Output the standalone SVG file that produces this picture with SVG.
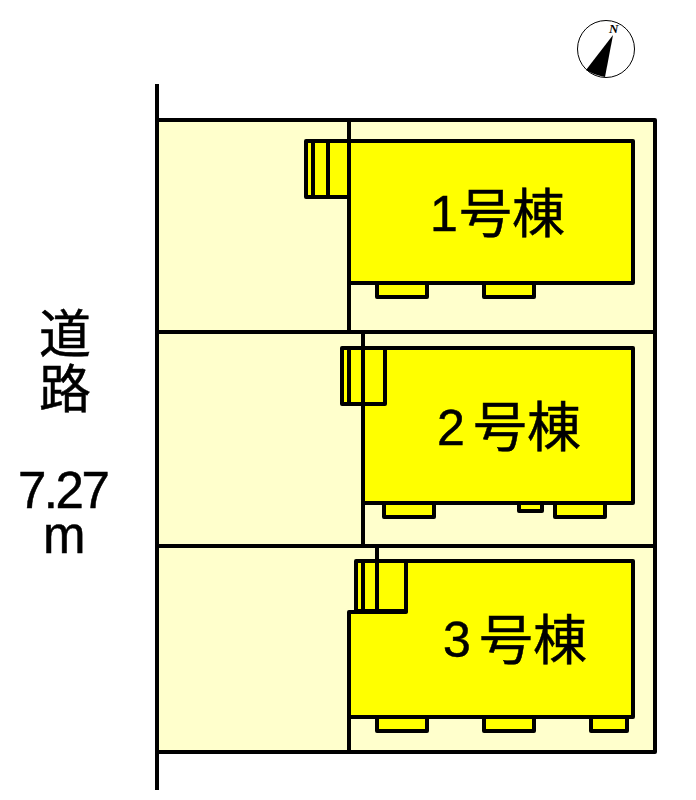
<svg xmlns="http://www.w3.org/2000/svg" width="696" height="800" viewBox="0 0 696 800">
<style>
.l{fill:none;stroke:#000;stroke-width:4;stroke-linejoin:round}
.b{fill:#ff0;stroke:#000;stroke-width:4;stroke-linejoin:round}
.t{font-family:"Liberation Sans","Noto Sans CJK JP",sans-serif;fill:#000;stroke:#000;stroke-width:.5}
.j{font-family:"Noto Sans CJK JP",sans-serif;fill:#000;stroke:#000;stroke-width:.5}
</style>
<rect width="696" height="800" fill="#fff"/>
<g id="site">
<rect x="157" y="120" width="498" height="632" class="l" style="fill:#ffc"/>
</g>
<g id="connectors">
<path class="l" d="M157 84V790M157 332H655M157 546H655M349 120V141M349 283V332M363 332V348M363 503V546M377 546V561M349 717V752"/>
</g>
<g id="building-1">
<rect class="b" x="306" y="141" width="43" height="56"/>
<path class="l" d="M313 141V197M328 141V197"/>
<rect class="b" x="377" y="283" width="50" height="14"/>
<rect class="b" x="484" y="283" width="50" height="14"/>
<rect class="b" x="349" y="141" width="284" height="142"/>
<text class="t" x="430" y="231" font-size="50">1</text>
<text class="j" x="459" y="233" font-size="53">号棟</text>
</g>
<g id="building-2">
<rect class="b" x="384" y="503" width="50" height="14"/>
<rect class="b" x="519" y="503" width="23" height="8"/>
<rect class="b" x="555" y="503" width="50" height="14"/>
<rect class="b" x="363" y="348" width="270" height="155"/>
<rect class="b" x="342" y="348" width="43" height="56"/>
<path class="l" d="M349 348V404M363 348V404"/>
<text class="t" x="437" y="445" font-size="50">2</text>
<text class="j" x="473" y="447" font-size="54">号棟</text>
</g>
<g id="building-3">
<rect class="b" x="377" y="717" width="50" height="14"/>
<rect class="b" x="484" y="717" width="50" height="14"/>
<rect class="b" x="591" y="717" width="36" height="14"/>
<path class="b" d="M349 612H406V561H633V717H349Z"/>
<rect class="b" x="356" y="561" width="50" height="50"/>
<path class="l" d="M363 561V611M377 561V611"/>
<text class="t" x="443" y="657" font-size="50">3</text>
<text class="j" x="479" y="660" font-size="54">号棟</text>
</g>
<g id="road-label">
<text class="j" font-size="52"><tspan x="39" y="353">道</tspan><tspan x="39" y="408">路</tspan></text>
<text class="t" font-size="51"><tspan x="18" y="508" letter-spacing="-2.5">7.27</tspan><tspan x="43" y="553">m</tspan></text>
</g>
<g id="north">
<circle cx="606" cy="49" r="28.5" fill="#fff" stroke="#000" stroke-width="1"/>
<path d="M613 35L586 70Q594 75 605 77Z" fill="#000"/>
<text x="609" y="33" font-size="13" font-style="italic" font-weight="bold" font-family="Liberation Serif,serif" fill="#000">N</text>
</g>
</svg>
